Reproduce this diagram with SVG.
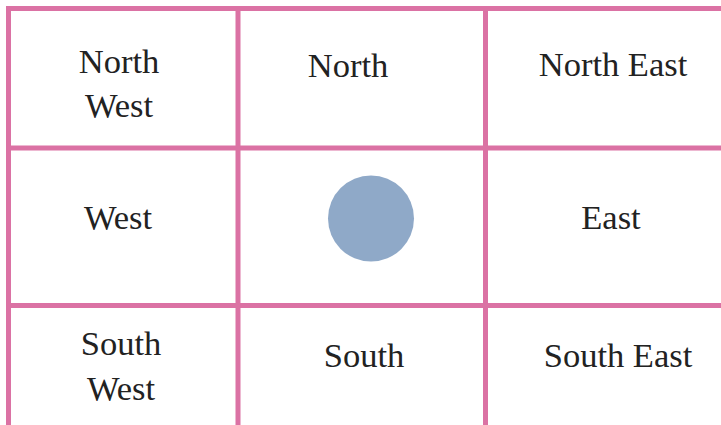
<svg xmlns="http://www.w3.org/2000/svg" width="721" height="425" viewBox="0 0 721 425">
<style>
.grid line{stroke:#DB72A4;stroke-width:5}
text{font-family:"Liberation Serif","Times New Roman",serif;font-size:34.5px;fill:#222;text-anchor:middle}
</style>
<rect width="721" height="425" fill="#fff"/>
<g id="connectors" class="grid">
<line x1="6" y1="8.5" x2="721" y2="8.5"/>
<line x1="6" y1="148" x2="721" y2="148"/>
<line x1="6" y1="305.5" x2="721" y2="305.5"/>
<line x1="8.5" y1="6" x2="8.5" y2="425"/>
<line x1="238" y1="6" x2="238" y2="425"/>
<line x1="485.5" y1="6" x2="485.5" y2="425"/>
</g>
<g id="nw"><text x="119" y="73">North</text><text x="119" y="117">West</text></g>
<g id="n"><text x="348" y="77">North</text></g>
<g id="ne"><text x="613" y="76">North East</text></g>
<g id="w"><text x="118" y="229">West</text></g>
<g id="center"><circle cx="371" cy="218.5" r="43" fill="#8FA9C8"/></g>
<g id="e"><text x="611" y="229">East</text></g>
<g id="sw"><text x="121" y="355">South</text><text x="121" y="400">West</text></g>
<g id="s"><text x="364" y="367">South</text></g>
<g id="se"><text x="618" y="367">South East</text></g>
</svg>
